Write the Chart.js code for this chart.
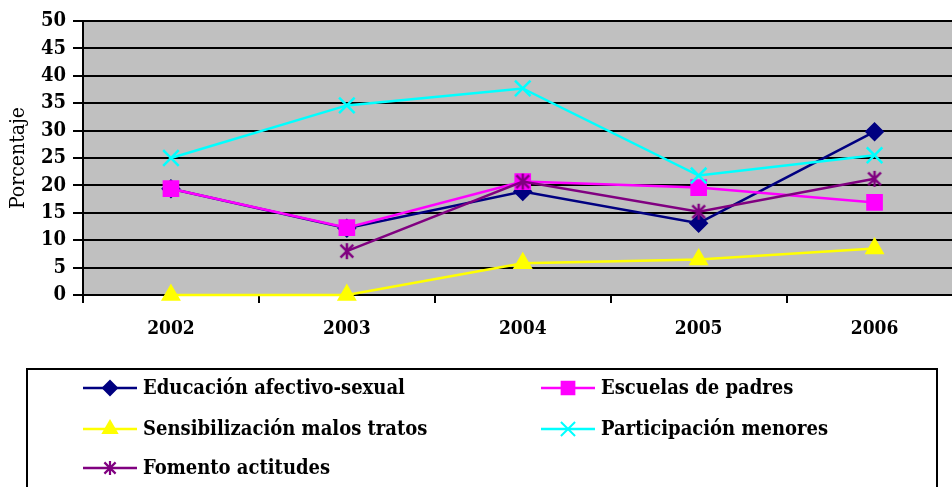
<!DOCTYPE html>
<html>
<head>
<meta charset="utf-8">
<script src="https://cdn.jsdelivr.net/npm/chart.js@4.4.1/dist/chart.umd.min.js"></script>
<style>
  html, body { margin: 0; padding: 0; background: #ffffff; overflow: hidden; }
  #wrap { width: 952px; height: 487px; overflow: hidden; position: relative; }
  canvas { display: block; }
</style>
</head>
<body>
<div id="wrap"><canvas id="c" width="976" height="487"></canvas></div>
<script>
// ---- data ----
const categories = ['2002', '2003', '2004', '2005', '2006'];
const educacion = [19.4, 12.2, 18.9, 13.1, 29.8];
const escuelas = [19.4, 12.3, 20.7, 19.6, 16.9];
const sensibilizacion = [0, 0, 5.8, 6.5, 8.5];
const participacion = [25.0, 34.6, 37.7, 21.8, 25.5];
const fomento = [null, 8.0, 20.7, 15.2, 21.2];
const seriesNames = ['Educación afectivo-sexual', 'Escuelas de padres', 'Sensibilización malos tratos', 'Participación menores', 'Fomento actitudes'];
const yTicks = [0, 5, 10, 15, 20, 25, 30, 35, 40, 45, 50];

const FONT = "'DejaVu Serif Condensed', 'DejaVu Serif', serif";

// asterisk marker (vertical + X), like the spreadsheet "star"
function makeStar(color, size, lw) {
  const c = document.createElement('canvas');
  c.width = size; c.height = size;
  const g = c.getContext('2d');
  g.strokeStyle = color; g.lineWidth = lw;
  const m = size / 2, r = size / 2 - 1;
  const d = r * 0.8;
  g.beginPath();
  g.moveTo(m, m - r); g.lineTo(m, m + r);
  g.moveTo(m - d, m - d); g.lineTo(m + d, m + d);
  g.moveTo(m + d, m - d); g.lineTo(m - d, m + d);
  g.stroke();
  return c;
}
const starImg = makeStar('#800080', 18, 2.5);
const starImgSmall = makeStar('#800080', 16, 2.2);

const styles = [
  { color: '#000080', pointStyle: 'rectRot', radius: 8, legendStyle: 'rectRot' },
  { color: '#FF00FF', pointStyle: 'rect', radius: 10, legendStyle: 'rect' },
  { color: '#FFFF00', pointStyle: 'triangle', radius: 9, legendStyle: 'triangle' },
  { color: '#00FFFF', pointStyle: 'crossRot', radius: 11, legendStyle: 'crossRot' },
  { color: '#800080', pointStyle: starImg, radius: 9, legendStyle: starImgSmall }
];
const values = [educacion, escuelas, sensibilizacion, participacion, fomento];

const datasets = values.map((v, i) => ({
  label: seriesNames[i],
  data: v,
  borderColor: styles[i].color,
  backgroundColor: styles[i].color,
  pointBackgroundColor: styles[i].color,
  pointBorderColor: styles[i].color,
  pointStyle: styles[i].pointStyle,
  pointRadius: styles[i].radius,
  pointHoverRadius: styles[i].radius,
  pointBorderWidth: 2.5,
  borderWidth: 2.5,
  tension: 0,
  spanGaps: false,
  clip: false,
  order: 10 - i
}));

const plotBg = {
  id: 'plotBg',
  beforeDraw(chart) {
    const { ctx, chartArea: a } = chart;
    ctx.save();
    ctx.fillStyle = '#C0C0C0';
    ctx.fillRect(a.left, a.top, a.right - a.left, a.bottom - a.top);
    ctx.restore();
  }
};

const boxLegend = {
  id: 'boxLegend',
  afterDraw(chart) {
    const ctx = chart.ctx;
    ctx.save();
    ctx.strokeStyle = '#000';
    ctx.lineWidth = 2;
    ctx.strokeRect(27, 369, 910, 140);
    const cols = [83, 541];
    const rows = [388, 429, 468];
    ctx.font = "bold 20px " + FONT;
    ctx.textBaseline = 'middle';
    ctx.textAlign = 'left';
    seriesNames.forEach((name, i) => {
      const x0 = cols[i % 2], y = rows[Math.floor(i / 2)];
      const st = styles[i];
      ctx.strokeStyle = st.color; ctx.lineWidth = 2.5;
      ctx.beginPath(); ctx.moveTo(x0, y); ctx.lineTo(x0 + 54, y); ctx.stroke();
      ctx.fillStyle = st.color; ctx.strokeStyle = st.color; ctx.lineWidth = 2;
      Chart.helpers.drawPoint(ctx, { pointStyle: st.legendStyle, radius: st.radius - 1, borderWidth: 2, rotation: 0 }, x0 + 27, y);
      ctx.fillStyle = '#000';
      ctx.fillText(name, x0 + 60, y + 1);
    });
    ctx.restore();
  }
};

new Chart(document.getElementById('c'), {
  type: 'line',
  data: { labels: categories, datasets },
  options: {
    responsive: false,
    animation: false,
    events: [],
    layout: { padding: { top: 21, right: 7, bottom: 0, left: 0 } },
    plugins: { legend: { display: false }, tooltip: { enabled: false } },
    scales: {
      x: {
        offset: true,
        grid: { display: true, drawOnChartArea: false, drawTicks: true, tickLength: 8, color: '#000', lineWidth: 2, offset: true },
        border: { display: true, color: '#000', width: 2 },
        ticks: { color: '#000', font: { family: FONT, size: 19, weight: 'bold' }, padding: 15, maxRotation: 0 },
        afterFit(s) { s.height = 487 - 295; }
      },
      y: {
        min: 0, max: 50,
        afterBuildTicks(s) { s.ticks = yTicks.map(v => ({ value: v })); },
        grid: { color: '#000', lineWidth: 2, tickLength: 10, drawTicks: true },
        border: { display: true, color: '#000', width: 2 },
        ticks: { color: '#000', font: { family: FONT, size: 20, weight: 'bold' }, padding: 7 },
        title: { display: true, text: 'Porcentaje', color: '#000', font: { family: FONT, size: 21, weight: 'normal' }, padding: { top: 6, bottom: 0 } },
        afterFit(s) { s.width = 83; }
      }
    }
  },
  plugins: [plotBg, boxLegend]
});
</script>
</body>
</html>
